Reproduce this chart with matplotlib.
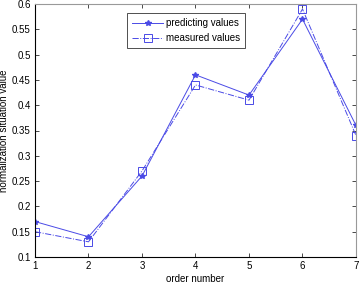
import matplotlib
matplotlib.use("Agg")
import matplotlib.pyplot as plt

order = [1, 2, 3, 4, 5, 6, 7]
predicting = [0.17, 0.14, 0.26, 0.46, 0.42, 0.57, 0.36]
measured = [0.15, 0.13, 0.27, 0.44, 0.41, 0.59, 0.34]
yticks = [0.1, 0.15, 0.2, 0.25, 0.3, 0.35, 0.4, 0.45, 0.5, 0.55, 0.6]

plt.rcParams['font.family'] = ['Liberation Sans', 'DejaVu Sans']
fig = plt.figure(figsize=(3.61, 2.85), dpi=100)
ax = fig.add_axes([35/361, 1-257/285, (356-35)/361, (257-4)/285])
col = '#4a4ae6'
ax.plot(order, predicting, '-', color=col, lw=0.7, marker='*', ms=4, label='predicting values')
ax.plot(order, measured, '-.', color=col, lw=0.7, marker='s', ms=5.5, mfc='none', mew=0.7,
        label='measured values')
ax.set_xlim(1, 7)
ax.set_ylim(0.1, 0.6)
ax.set_xticks(order)
ax.set_yticks(yticks)
ax.set_yticklabels([f"{v:g}" for v in yticks])
ax.tick_params(direction='in', labelsize=7, length=3, width=0.5, top=True, right=True, pad=3)
for s in ['top', 'right']:
    ax.spines[s].set_color('#999999')
for s in ['left', 'bottom']:
    ax.spines[s].set_color('black')
for s in ax.spines.values():
    s.set_linewidth(0.8)
ax.set_xlabel('order number', fontsize=7, labelpad=2)
ax.set_ylabel('normalization situation value', fontsize=7, labelpad=2)
leg = ax.legend(loc='upper left', bbox_to_anchor=(0.287, 0.963), fontsize=7, frameon=True,
                fancybox=False, edgecolor='black', handlelength=3.2, borderpad=0.5,
                labelspacing=0.5, handletextpad=0.3, borderaxespad=0)
leg.get_frame().set_linewidth(0.6)
fig.savefig('out.png', dpi=100)
